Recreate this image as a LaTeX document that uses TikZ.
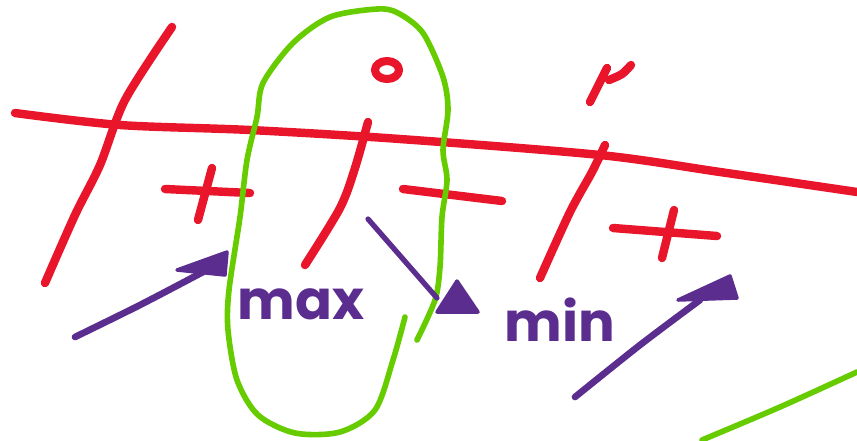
\documentclass[tikz,border=0pt]{standalone}
\usepackage{fontspec}
\usepackage{tikz}
\usetikzlibrary{positioning}
\newfontfamily\handfont{Poppins}
\definecolor{signred}{HTML}{E8152B}
\definecolor{loopgreen}{HTML}{66CC00}
\definecolor{notepurple}{HTML}{5B2D8F}

\begin{document}
\begin{tikzpicture}[
  x=0.02cm, y=-0.02cm,
  redstroke/.style={draw=signred,line width=4.8pt,line cap=round,line join=round},
  greenstroke/.style={draw=loopgreen,line width=3.2pt,line cap=round,line join=round},
  purplestroke/.style={draw=notepurple,line width=3.8pt,line cap=round,line join=round},
  purplehead/.style={fill=notepurple,draw=notepurple,line width=2pt,line join=round},
  handlabel/.style={font=\handfont\bfseries\fontsize{31}{31}\selectfont,inner sep=0pt}
]
  \useasboundingbox (0,0) rectangle (857,440);

  % number line and roots
  \draw[redstroke] plot[smooth] coordinates {(15,113) (120,125) (250,130) (400,139) (600,155) (720,172) (857,192)};
  \draw[redstroke] plot[smooth] coordinates {(172,27) (125,100) (100,165) (75,215) (45,283)};
  \draw[redstroke] plot[smooth] coordinates {(368,122) (355,168) (340,208) (305,265)};
  \draw[redstroke] plot[smooth] coordinates {(605,145) (592,172) (570,212) (540,278)};
  \draw[redstroke,line width=4.6pt] (387,70) ellipse (12 and 9);
  \draw[redstroke] (590,102) -- (607,68);
  \draw[redstroke] plot[smooth] coordinates {(609,80) (622,74) (631,65)};

  % signs
  \draw[redstroke] (165,189) -- (250,193);
  \draw[redstroke] (212,168) -- (198,220);
  \draw[redstroke] (403,189) -- (502,201);
  \draw[redstroke] (613,228) -- (717,236);
  \draw[redstroke] (674,210) -- (662,258);

  % loop round the middle root
  \draw[greenstroke] plot[smooth] coordinates {(405,317) (393,360) (375,410) (340,432) (295,433)
    (258,415) (237,380) (228,330) (229,290) (240,217) (247,160) (257,117) (263,83) (293,43)
    (330,17) (377,9) (398,13) (423,33) (443,77) (448,110) (443,150) (447,180) (442,217)
    (440,267) (435,300) (417,340)};
  \draw[greenstroke] plot[smooth] coordinates {(702,440) (780,407) (857,372)};

  % arrows
  \draw[purplestroke] plot[smooth] coordinates {(75,337) (140,305) (203,272)};
  \draw[purplehead] (177,270) -- (227,252) -- (225,275) -- cycle;
  \draw[purplestroke,line width=3pt] (368,219) -- (437,298);
  \draw[purplehead] (457,281) -- (437,312) -- (478,312) -- cycle;
  \draw[purplestroke] plot[smooth] coordinates {(575,397) (640,345) (700,300)};
  \draw[purplehead] (678,300) -- (730,276) -- (737,298) -- cycle;

  \node[handlabel,text=notepurple] (maxlabel) at (301,304) {max};
  \node[handlabel,text=notepurple] (minlabel) at (560,320) {min};
\end{tikzpicture}
\end{document}
